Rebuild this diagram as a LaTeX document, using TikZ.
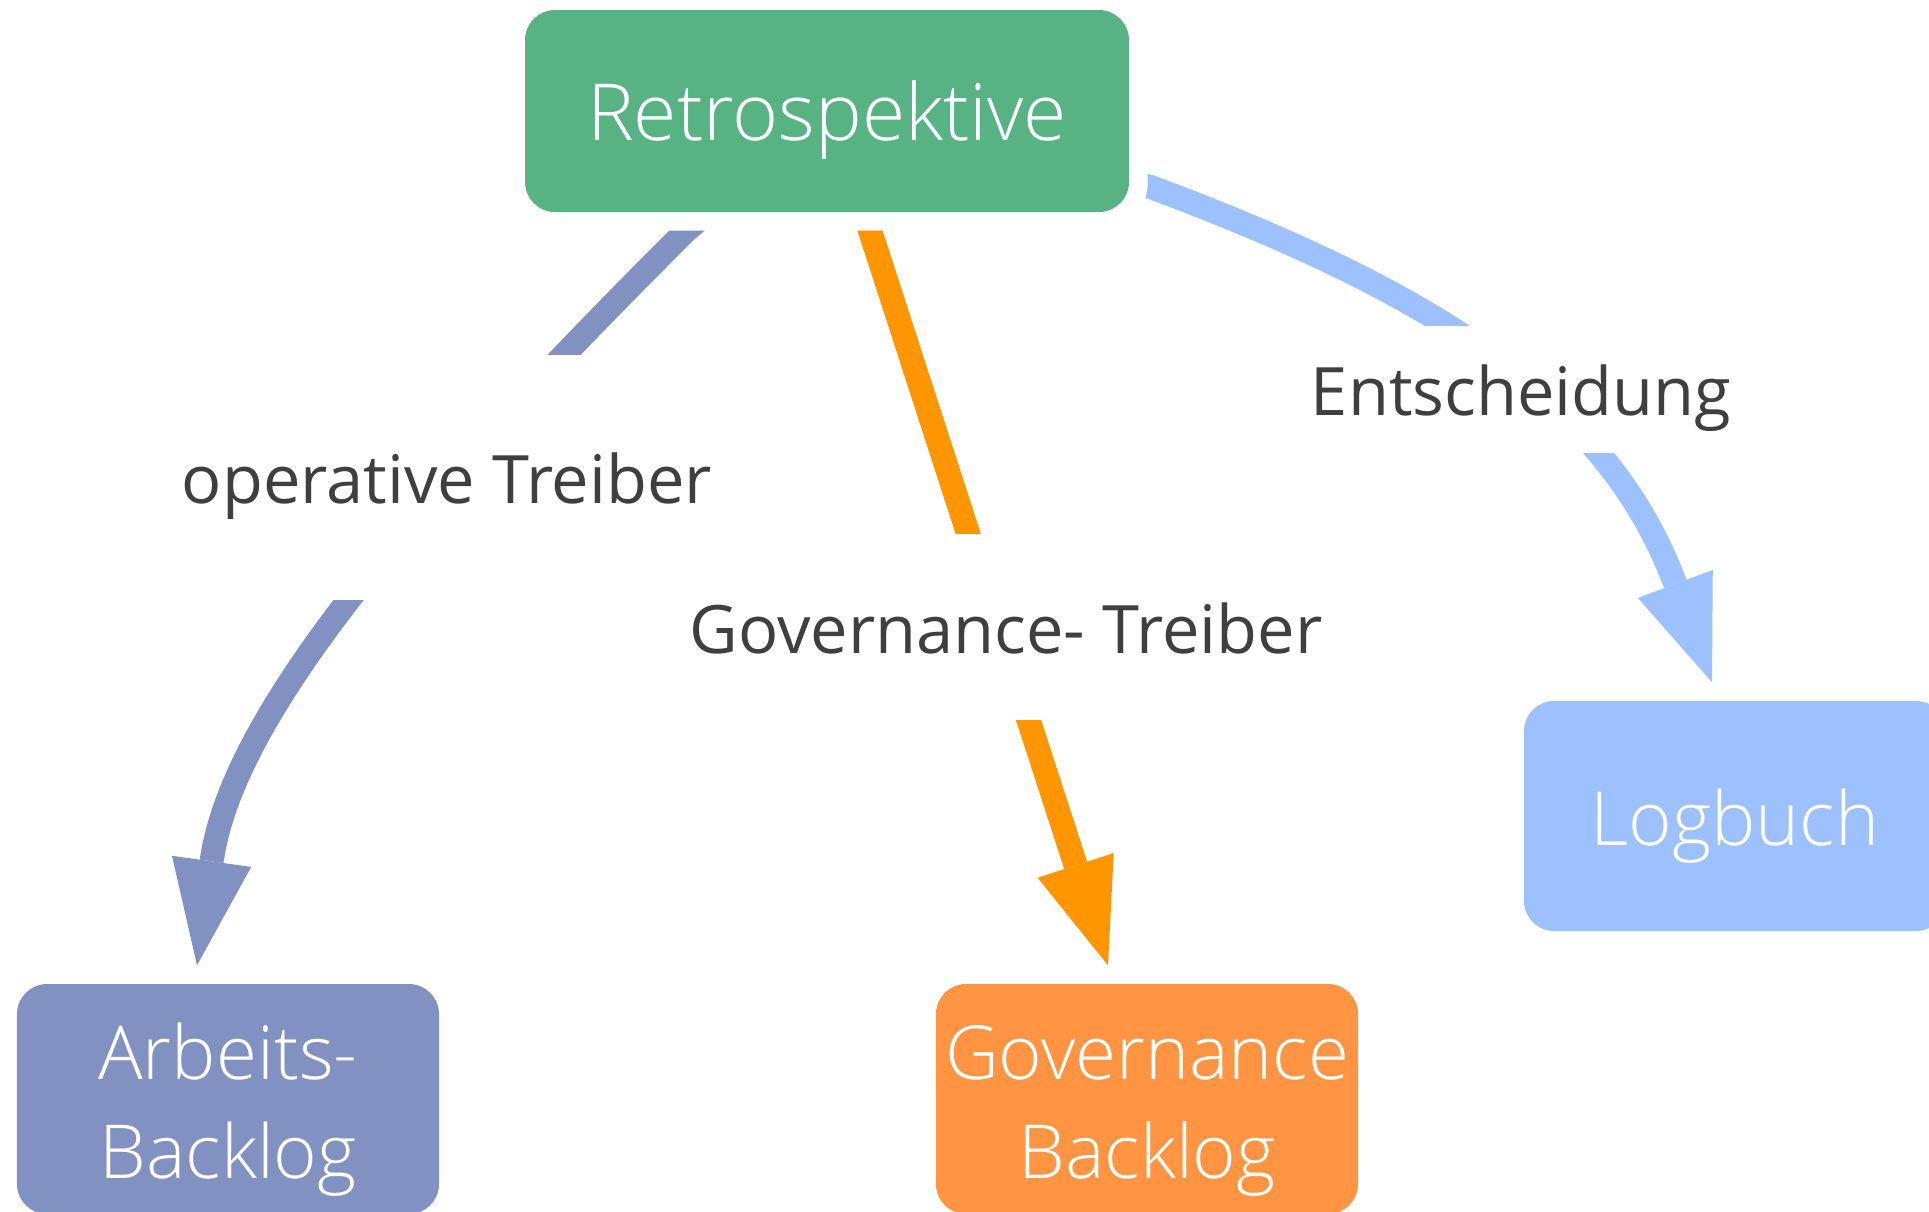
\documentclass[tikz,border=0pt]{standalone}
\usepackage{fontspec}
\setmainfont{Open Sans}
\newfontfamily\lightfont{Open Sans}[UprightFont=* Light]
\usepackage{xcolor}
\usepackage{tikz}
\usetikzlibrary{positioning,arrows.meta,backgrounds}

\definecolor{retrogreen}{HTML}{57B383}
\definecolor{opblue}{HTML}{8191C1}
\definecolor{govorange}{HTML}{FF9442}
\definecolor{arroworange}{HTML}{FF9500}
\definecolor{logblue}{HTML}{9DC0FF}
\definecolor{labelgray}{HTML}{3F3F3F}

\begin{document}
\begin{tikzpicture}[
  box/.style={rounded corners=0.3cm, text=white, align=center,
    font=\lightfont\fontsize{21.2}{28}\selectfont, inner sep=0pt},
  lbl/.style={fill=white, text=labelgray, inner xsep=2pt, inner ysep=0pt,
    text height=17pt, text depth=2pt, font=\fontsize{19}{24}\selectfont},
  flow/.style={line width=0.24cm, -{Triangle[length=1.05cm, width=0.8cm, line width=0pt]}}
]
\useasboundingbox (0,0) rectangle (19.29,-12.11);
\clip (0,0) rectangle (19.29,-12.11);

\node[box, fill=retrogreen, minimum width=6.04cm, minimum height=2.02cm, text height=19pt, text depth=2pt,
  font=\lightfont\fontsize{22.4}{28}\selectfont](retro) at (8.27,-1.11) {Retrospektive};
\node[box, fill=opblue, minimum width=4.22cm, minimum height=2.30cm, text height=47pt, text depth=2pt](arbeits) at (2.28,-10.99) {Arbeits-\\Backlog};
\node[box, fill=govorange, minimum width=4.22cm, minimum height=2.30cm, text height=47pt, text depth=2pt](govern) at (11.47,-10.99) {Governance\\Backlog};
\node[box, fill=logblue, minimum width=4.22cm, minimum height=2.30cm, text height=19pt, text depth=2pt](logbuch) at (17.35,-8.16) {Logbuch};

\begin{scope}[on background layer]
\draw[flow, opblue] (retro.center) -- ([xshift=-1.41cm, yshift=-0.18cm]retro.south)
  .. controls (4.06,-5.10) and (2.32,-7.16) .. ([xshift=-0.31cm, yshift=0.18cm]arbeits.north);
\draw[flow, arroworange] (retro.center) -- ([xshift=0.43cm, yshift=-0.18cm]retro.south)
  -- ([xshift=-0.39cm, yshift=0.18cm]govern.north);
\draw[flow, logblue] (retro.center) -- ([xshift=0.21cm, yshift=-0.76cm]retro.east)
  .. controls (14.32,-2.92) and (16.07,-4.01) .. ([xshift=-0.23cm, yshift=0.18cm]logbuch.north);
% white margin round the retro box cuts the connectors
\fill[white, rounded corners=0.48cm] ([shift={(-0.18,-0.18)}]retro.south west) rectangle ([shift={(0.18,0.18)}]retro.north east);
\end{scope}

\node[lbl, minimum height=2.45cm](optreiber) at (4.47,-4.77) {operative Treiber};
\node[lbl, minimum height=1.86cm](govtreiber) at (10.06,-6.27) {Governance- Treiber};
\node[lbl, minimum height=1.27cm](entscheid) at (15.21,-3.895) {Entscheidung};

\end{tikzpicture}
\end{document}
